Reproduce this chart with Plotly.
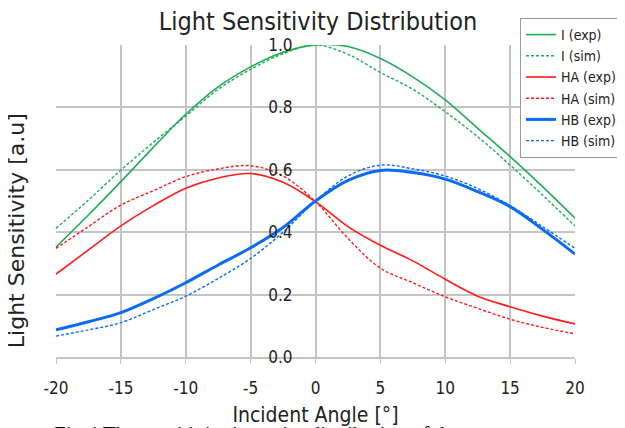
import plotly.graph_objects as go

angles = [-20, -17.5, -15, -12.5, -10, -7.5, -5, -2.5, 0, 2.5, 5, 7.5, 10, 12.5, 15, 17.5, 20]

i_exp  = [0.352, 0.455, 0.562, 0.672, 0.778, 0.866, 0.930, 0.977, 1.000, 0.995, 0.957, 0.898, 0.824, 0.733, 0.642, 0.546, 0.445]
i_sim  = [0.412, 0.503, 0.599, 0.688, 0.772, 0.858, 0.922, 0.972, 1.000, 0.970, 0.912, 0.858, 0.786, 0.706, 0.615, 0.519, 0.420]
ha_exp = [0.266, 0.343, 0.420, 0.485, 0.541, 0.574, 0.588, 0.560, 0.498, 0.418, 0.358, 0.308, 0.249, 0.195, 0.161, 0.131, 0.106]
ha_sim = [0.348, 0.418, 0.487, 0.533, 0.578, 0.603, 0.613, 0.580, 0.498, 0.380, 0.285, 0.238, 0.193, 0.156, 0.121, 0.095, 0.074]
hb_exp = [0.087, 0.113, 0.142, 0.187, 0.238, 0.295, 0.350, 0.415, 0.500, 0.566, 0.598, 0.591, 0.570, 0.530, 0.482, 0.409, 0.330]
hb_sim = [0.067, 0.087, 0.110, 0.152, 0.195, 0.252, 0.316, 0.400, 0.500, 0.580, 0.615, 0.603, 0.580, 0.540, 0.485, 0.418, 0.348]

x_ticks = [-20, -15, -10, -5, 0, 5, 10, 15, 20]
y_ticks = [0.0, 0.2, 0.4, 0.6, 0.8, 1.0]

GREEN = "#1FAE55"
RED = "#FF1A1A"
BLUE = "#0A6CF5"
FONT = "DejaVu Sans Condensed, DejaVu Sans, sans-serif"

series = [
    ("I (exp)", i_exp, GREEN, "solid", 1.6),
    ("I (sim)", i_sim, GREEN, "3px,2px", 1.4),
    ("HA (exp)", ha_exp, RED, "solid", 1.6),
    ("HA (sim)", ha_sim, RED, "3px,2px", 1.4),
    ("HB (exp)", hb_exp, BLUE, "solid", 3.0),
    ("HB (sim)", hb_sim, BLUE, "3px,2px", 1.4),
]

fig = go.Figure()
for name, vals, color, dash, w in series:
    fig.add_trace(go.Scatter(
        x=angles, y=vals, name=name, mode="lines",
        line=dict(color=color, dash=dash, width=w, shape="spline", smoothing=1.0),
    ))

# the page body adds an 8px offset; margins compensate for it
fig.update_layout(
    width=625, height=428,
    margin=dict(l=48, r=58, t=37, b=79, autoexpand=False),
    paper_bgcolor="white", plot_bgcolor="white",
    font=dict(family=FONT, size=16, color="#222"),
    title=dict(text="Light Sensitivity Distribution", x=0.496, xanchor="center",
               xref="container", yref="container",
               y=0.99, yanchor="top", font=dict(size=25, color="#222")),
    showlegend=True,
    legend=dict(xref="container", yref="container",
                x=512 / 625, y=1 - 10 / 428, xanchor="left", yanchor="top",
                bgcolor="white", bordercolor="#9A9A9A", borderwidth=1,
                font=dict(family=FONT, size=14, color="#222"),
                tracegroupgap=0, itemwidth=30),
    xaxis=dict(range=[-20, 20], tickvals=x_ticks, ticktext=[str(v) for v in x_ticks],
               showgrid=True, gridcolor="#C4C4C4", gridwidth=1.5,
               zeroline=False, showline=True, linecolor="#C4C4C4", linewidth=1.5,
               ticks="outside", ticklen=5, tickcolor="#C4C4C4",
               ticklabelstandoff=10,
               tickfont=dict(size=17),
               title=dict(text="Incident Angle [°]", font=dict(size=21), standoff=10)),
    yaxis=dict(range=[0, 1.0], tickvals=y_ticks, ticktext=[f"{v:.1f}" for v in y_ticks],
               anchor="free", position=0.5, side="left",
               showgrid=True, gridcolor="#C4C4C4", gridwidth=1.5,
               zeroline=False, showline=False, ticks="", ticklabelstandoff=23,
               tickfont=dict(size=17)),
    annotations=[
        dict(text="Light Sensitivity [a.u]", xref="paper", yref="paper",
             x=-0.076, y=0.405, xanchor="center", yanchor="middle",
             textangle=-90, showarrow=False,
             font=dict(family="DejaVu Sans, sans-serif", size=22, color="#222")),
        dict(text="Fig.4 The sensitivity intensity distribution of the prototype",
             xref="paper", yref="paper", x=-0.008, y=-0.201, xanchor="left", yanchor="top",
             showarrow=False, font=dict(family="Liberation Serif, Times New Roman, serif",
                                        size=21, color="#111")),
    ],
)

fig.write_html("out.html")
